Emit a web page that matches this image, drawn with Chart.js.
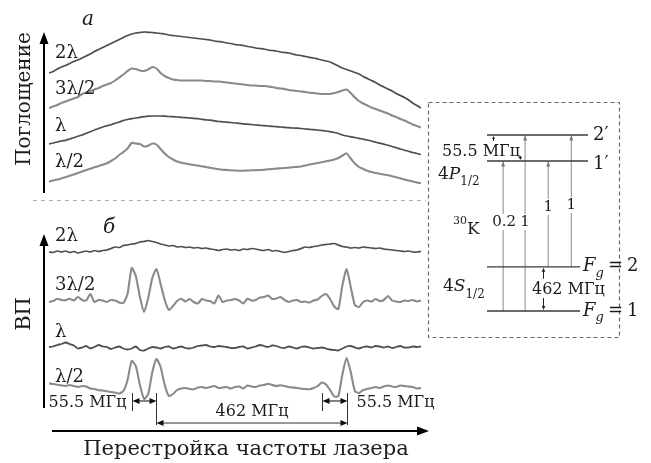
<!DOCTYPE html>
<html><head><meta charset="utf-8">
<script src="https://cdn.jsdelivr.net/npm/chart.js@4/dist/chart.umd.min.js"></script>
<style>
html,body{margin:0;padding:0;background:#fff;width:651px;height:463px;overflow:hidden}
#main{position:absolute;left:0;top:0;width:651px;height:463px}
#diag{position:absolute;left:420px;top:90px;width:231px;height:260px}
canvas{display:block}
</style></head><body>
<div id="main"><canvas id="c1" width="651" height="463"></canvas></div>
<div id="diag"><canvas id="c2" width="231" height="260"></canvas></div>
<script>
// ---------- DATA ----------
// laser detuning, MHz
const freqMHz = [-200,-190,-180,-170,-160,-150,-140,-130,-120,-110,
 -100,-90,-80,-70,-60,-50,-40,-30,-20,-10,
 0,10,20,30,40,50,60,70,80,90,
 100,110,120,130,140,150,160,170,180,190,
 200,210,220,230,240,250,260,270,280,290,
 300,310,320,330,340,350,360,370,380,390,
 400,410,420,430,440,450,460,470,480,490,
 500,510,520,530,540,550,560,570,580,590,
 600,610,620,630,640,650,660,670,680,690,
 700];

// panel "a": absorption (arb. units, traces displaced for display)
const absorb2L = [332,333.5,336,338,339.5,341.5,343.5,345,347,349,
 351,353.5,355.5,357.5,359.5,361.5,363.5,365.5,367.5,369.5,
 371,372,372.5,373,372.7,372.5,372,371.5,371,370,
 369.5,369,368.5,368,367.5,367,366.5,366,365.5,365,
 364,363.5,363,362,361.5,360.5,360,359.5,358.5,358,
 357,356.5,356,355,354.5,354,353,352.5,352,351,
 350,349.5,348.5,347.7,347,346,345,344,343,341,
 339,337,335.5,334,332.5,331,328.5,326.5,324.5,322.5,
 320,318,316,314,311.5,309.5,307.5,305,302,299.5,
 297];
const absorb3L2 = [297,298.5,300,302,303.5,305,306.5,308,311,312.5,
 314,315.5,317,319,320.5,322,324.5,327.5,330.5,334,
 336.5,336,334.5,334,335.5,338,336.5,332,329,327,
 325.5,325,324.5,324.5,324.5,324.5,324.5,324.5,324,324,
 323.5,323.5,323,322.5,322,321.5,321,320.5,320,319.5,
 319.5,319,319,318.5,318,317,316.5,316,315,314.5,
 314,313.5,313,312.3,312,311.5,311,311,311,312,
 313,314.5,315.5,312,307.5,304,301.5,299.5,297.5,296,
 294.5,293,291.5,289.5,288,286,284.5,282.5,280.5,279,
 277.5];
const absorbL = [261,262,263,264,264.7,266,267.3,268.7,270,271.7,
 273.3,275,276.5,278,279.2,280.3,281.7,283,284.5,285.5,
 286.3,287,287.7,288.3,288.8,289,289,289,288.8,288.5,
 288.3,288,287.7,287.3,287,286.7,286.3,285.7,285.2,284.8,
 284.2,283.5,283.2,282.8,282.5,282,281.7,281.2,280.8,280.5,
 280,279.7,279.3,279,278.7,278.3,278,277.6,277.3,277,
 276.8,276.5,276,275.7,275.3,275,274.5,274,273.3,272.5,
 271.5,270,269,268.2,267.5,266.7,265.8,265,264,262.8,
 261.8,260.8,259.8,258.5,257.3,256,254.8,253.7,252.5,251.5,
 250.5];
const absorbL2 = [223.3,224.5,225.5,226.5,227.8,229.2,230.5,232,233.5,235,
 236.3,237.7,239,240.3,241.7,244,246.5,250,253,256.5,
 262,261.5,261,258.5,259.3,261.5,260.5,256,251.5,248,
 245.5,243.5,242.3,241.5,240.7,240,239.5,238.7,238,237.2,
 236.5,235.8,235.3,235,234.7,234.5,234.3,234.3,234.5,234.7,
 234.8,235,235.3,235.7,236,236.4,236.7,237,237.4,237.8,
 238.1,238.5,239.5,240.5,241.3,242,242.7,243.7,244.5,245.5,
 247,249.5,251.5,246.5,241.5,238,236,234.2,233,232,
 231.2,230.5,229.8,228.8,227.7,226.7,225.5,224.5,223.5,222.5,
 221.7];

// panel "б": signal (arb. units, traces displaced for display)
const vp2L = [153,152.5,154,153,154,152.5,153.5,152,153,154,
 153,154.5,153.5,154.5,155,156.5,158,157.5,159.5,160,
 161,161.5,163,163.5,164.5,163.5,162.5,161,160,159,
 159.5,158,158.5,157.5,158,157,157.5,156.5,157,156,
 155.5,154.5,155.5,156,155,155.5,154.5,156,155.5,156.5,
 156,155,154.5,155.5,154,154.5,153.5,152.5,153.5,154.5,
 155,156.5,158,157.5,158.5,159,160,160.5,161,161.5,
 160,158.5,158,157,157.5,157,158,157.5,157,156.5,
 157,156,155.5,155,154.5,154,153.5,154,153,153,
 153.5];
const vp3L2 = [103,104,106.3,105,104.7,106.3,104.5,108,105,104.5,
 111,103,105,104.5,103,105,104.5,102.5,102,111,
 137,129,108,93,107,127,136,121,105,95,
 99,104,106.3,103.5,106,103,101.5,106,104.5,104,
 101.5,109.5,103,104.5,105,106,104.5,101.5,106.3,104.5,
 105,107.5,108,109.5,106,106.5,108,105,103,104.5,
 105,103,103.5,102.5,104.5,105.5,109,111,106,98.5,
 96,120,136,118,100,98,103,104.5,103.5,106,
 104,105,109,104.5,103.5,103,104.5,104,105,103.5,
 104.5];
const vpL = [58,58.5,60,61,62.5,61,59.5,56.5,57.5,59,
 56.5,58,60,58.5,58,56,57.5,58.5,56.5,55.5,
 56.5,58.5,55,54.5,56.5,58,57.5,56.5,58,58.5,
 56.5,57.5,58.5,57,56.5,57.5,59,59.5,60,58.5,
 58,59,58.5,58,57,57,58,58.5,56.5,57.5,
 58.5,60,59,58,59.5,59,57.5,57,58.5,57.5,
 56.5,58,58.5,57.5,56.5,57,57.5,56.5,55.5,55,
 54.5,56.5,58.5,59,57.5,56.5,58,58.5,57.5,59,
 58.5,57.5,58.5,57,58,59,57.5,57.5,58.5,58,
 58.5];
const vpL2 = [21.5,21,20.3,19.5,19,20,19,18,19,18.5,
 16.5,16,14.7,14.5,13.7,13,12.5,11.5,14,25,
 44,39,20,6,11,33,46,38,20,9,
 11,15,16.5,17,16,15.7,17.5,18,17,18,
 19,17,17.5,18,16.5,18,18.5,16.5,19.5,18.5,
 18,19.5,20,21.3,20,19,19.7,19,18,17.5,
 17,16.3,16,15.7,17,19,22.5,20.5,15,8.5,
 9,31,47,33,14,12,15,16,17,18,
 17,18.5,19.5,18.5,18,19.5,19,18.5,18,16.5,
 17];

const traceLabels = ["2λ", "3λ/2", "λ", "λ/2"];
const markerFreqs = [0, 60, 460, 522];           // MHz, resonance markers
const spacingLabels = ["55.5 МГц", "462 МГц", "55.5 МГц"];

// level scheme of 30K (schematic units)
const levelNames = ["Fg=1", "Fg=2", "1′", "2′"];
const levelPos = [15, 32, 72.7, 82.7];
const levelStart = [29, 29, 29, 29];
const levelEnd = [69.3, 69.3, 72.7, 72.7];
const transX = [36, 45.5, 55.5, 65.5];
const transFrom = [0, 0, 1, 1];
const transTo = [2, 3, 2, 3];
const transRel = ["0.2", "1", "1", "1"];

// ---------- HELPERS ----------
const FONT = "'DejaVu Serif', 'Liberation Serif', serif";
const DARK = '#4e4e4e', LIGHT = '#8a8a8a', INK = '#1c1c1c';

function head(ctx, x, y, ang, len, half) {
  const c = Math.cos(ang), s = Math.sin(ang);
  ctx.beginPath();
  ctx.moveTo(x, y);
  ctx.lineTo(x - len * c + half * s, y - len * s - half * c);
  ctx.lineTo(x - len * c - half * s, y - len * s + half * c);
  ctx.closePath(); ctx.fill();
}
function arrow(ctx, x1, y1, x2, y2, w, len, half, both) {
  const ang = Math.atan2(y2 - y1, x2 - x1);
  const c = Math.cos(ang), s = Math.sin(ang);
  ctx.lineWidth = w;
  ctx.beginPath();
  ctx.moveTo(both ? x1 + c * len * 0.6 : x1, both ? y1 + s * len * 0.6 : y1);
  ctx.lineTo(x2 - c * len * 0.6, y2 - s * len * 0.6);
  ctx.stroke();
  head(ctx, x2, y2, ang, len, half);
  if (both) head(ctx, x1, y1, ang + Math.PI, len, half);
}
function vline(ctx, x, y1, y2) { ctx.beginPath(); ctx.moveTo(x, y1); ctx.lineTo(x, y2); ctx.stroke(); }
function txt(ctx, s, x, y, font, align) {
  ctx.font = font; ctx.textAlign = align || 'left'; ctx.textBaseline = 'middle';
  ctx.fillText(s, x, y);
}
function runs(ctx, x, y, parts) {
  ctx.textAlign = 'left'; ctx.textBaseline = 'middle';
  for (const p of parts) {
    ctx.font = p.f;
    if (p.x !== undefined) x = p.x;
    ctx.fillText(p.t, x, y + (p.dy || 0));
    x += ctx.measureText(p.t).width;
  }
}

// ---------- MAIN CHART ----------
const mk = (arr, color, w, tension) => ({
  data: freqMHz.map((f, i) => ({ x: f, y: arr[i] })),
  borderColor: color, borderWidth: w, tension: tension,
  pointRadius: 0, fill: false
});

const mainAnnot = {
  id: 'mainAnnot',
  afterDraw(chart) {
    const ctx = chart.ctx, xs = chart.scales.x;
    ctx.save();
    // panel separator
    ctx.strokeStyle = '#b0b0b0'; ctx.lineWidth = 1; ctx.setLineDash([4, 4]);
    ctx.beginPath(); ctx.moveTo(33, 200.5); ctx.lineTo(426, 200.5); ctx.stroke();
    ctx.setLineDash([]);
    // axis arrows
    ctx.strokeStyle = '#000'; ctx.fillStyle = '#000';
    arrow(ctx, 44, 193, 44, 32, 2, 12, 4.5);
    arrow(ctx, 44, 408, 44, 234, 2, 12, 4.5);
    arrow(ctx, 52, 431, 429, 431, 2, 12, 4.5);
    // axis titles
    ctx.fillStyle = INK;
    ctx.save(); ctx.translate(25, 99); ctx.rotate(-Math.PI / 2);
    txt(ctx, "Поглощение", 0, 0, `20px ${FONT}`, 'center'); ctx.restore();
    ctx.save(); ctx.translate(25, 314); ctx.rotate(-Math.PI / 2);
    txt(ctx, "ВП", 0, 0, `21px ${FONT}`, 'center'); ctx.restore();
    txt(ctx, "Перестройка частоты лазера", 246, 450, `21px ${FONT}`, 'center');
    // panel letters
    txt(ctx, "a", 88, 20, `italic 20px ${FONT}`, 'center');
    txt(ctx, "б", 109, 228, `italic 20px ${FONT}`, 'center');
    // trace labels
    const yA = [53, 89, 126, 162], yB = [236, 285, 332, 377];
    traceLabels.forEach((s, k) => {
      txt(ctx, s, 55, yA[k], `18px ${FONT}`, 'left');
      txt(ctx, s, 55, yB[k], `18px ${FONT}`, 'left');
    });
    // resonance markers
    const mx = markerFreqs.map(f => Math.round(xs.getPixelForValue(f)) + 0.5);
    ctx.strokeStyle = '#333'; ctx.fillStyle = '#111'; ctx.lineWidth = 1;
    vline(ctx, mx[0], 393, 411); vline(ctx, mx[1], 393, 425);
    vline(ctx, mx[2], 393, 411); vline(ctx, mx[3], 393, 425);
    arrow(ctx, mx[0], 401, mx[1], 401, 1.2, 7, 3, true);
    arrow(ctx, mx[2], 401, mx[3], 401, 1.2, 7, 3, true);
    arrow(ctx, mx[1], 423, mx[3], 423, 1, 7, 3, true);
    ctx.fillStyle = INK;
    txt(ctx, spacingLabels[0], mx[0] - 6, 403, `16px ${FONT}`, 'right');
    txt(ctx, spacingLabels[1], (mx[1] + mx[3]) / 2, 412, `16px ${FONT}`, 'center');
    txt(ctx, spacingLabels[2], mx[3] + 9, 403, `16px ${FONT}`, 'left');
    ctx.restore();
  }
};

new Chart(document.getElementById('c1'), {
  type: 'line',
  data: {
    datasets: [
      mk(absorb2L, DARK, 1.7, 0.3), mk(absorb3L2, LIGHT, 2.1, 0.3),
      mk(absorbL, DARK, 1.7, 0.3), mk(absorbL2, LIGHT, 2.1, 0.3),
      mk(vp2L, DARK, 1.7, 0.2), mk(vp3L2, LIGHT, 2.1, 0.2),
      mk(vpL, DARK, 1.8, 0.2), mk(vpL2, LIGHT, 2.1, 0.2)
    ]
  },
  options: {
    responsive: false, animation: false, devicePixelRatio: 1,
    layout: { padding: { left: 49, right: 230, top: 25, bottom: 58 } },
    scales: {
      x: { type: 'linear', min: -200, max: 700, display: false },
      y: { min: 0, max: 380, display: false }
    },
    plugins: { legend: { display: false }, tooltip: { enabled: false } },
    elements: { point: { radius: 0 } }
  },
  plugins: [mainAnnot]
});

// ---------- LEVEL DIAGRAM ----------
const diagAnnot = {
  id: 'diagAnnot',
  afterDraw(chart) {
    const ctx = chart.ctx, xs = chart.scales.x, ys = chart.scales.y;
    const ly = levelPos.map(v => ys.getPixelForValue(v));
    ctx.save();
    // dashed frame
    ctx.strokeStyle = '#6a6a6a'; ctx.lineWidth = 1.2; ctx.setLineDash([4, 3]);
    ctx.strokeRect(8.5, 12.5, 191, 235);
    ctx.setLineDash([]);
    // arrowheads of transitions
    ctx.fillStyle = '#777';
    transX.forEach((x, k) => head(ctx, xs.getPixelForValue(x), ly[transTo[k]] + 0.5, -Math.PI / 2, 5, 2));
    // relative strengths (white box = gap in line)
    const relY = [132, 132, 117, 115];
    ctx.font = `15px ${FONT}`;
    transX.forEach((x, k) => {
      const px = xs.getPixelForValue(x), w = ctx.measureText(transRel[k]).width;
      ctx.fillStyle = '#fff'; ctx.fillRect(px - w / 2 - 1, relY[k] - 8, w + 2, 16);
      ctx.fillStyle = INK; txt(ctx, transRel[k], px + (k === 0 ? 1 : 0), relY[k], `15px ${FONT}`, 'center');
    });
    // 462 MHz ground splitting indicator
    ctx.strokeStyle = '#222'; ctx.fillStyle = '#222';
    const gx = 123.5;
    arrow(ctx, gx, ly[1] + 12, gx, ly[1] + 1, 1, 4, 1.8);
    arrow(ctx, gx, ly[0] - 13, gx, ly[0] - 1, 1, 4, 1.8);
    // 55.5 MHz excited splitting ticks
    arrow(ctx, 73.5, ly[3] + 6, 73.5, ly[3] + 1, 1, 3, 1.5);
    arrow(ctx, 100.5, ly[2] - 5, 100.5, ly[2] - 1, 1, 3, 1.5);
    // texts
    ctx.fillStyle = INK;
    txt(ctx, "2′", 173, ly[3], `18px ${FONT}`, 'left');
    txt(ctx, "1′", 173, ly[2] + 3, `18px ${FONT}`, 'left');
    txt(ctx, "55.5 МГц", 22, 62, `16px ${FONT}`, 'left');
    runs(ctx, 18, 85, [{ t: '4', f: `17px ${FONT}` }, { t: 'P', f: `italic 17px ${FONT}` }, { t: '1/2', f: `12px ${FONT}`, dy: 7 }]);
    runs(ctx, 23, 197, [{ t: '4', f: `17px ${FONT}` }, { t: 'S', f: `italic 17px ${FONT}` }, { t: '1/2', f: `12px ${FONT}`, dy: 8 }]);
    runs(ctx, 33, 140, [{ t: '30', f: `11px ${FONT}`, dy: -9 }, { t: 'K', f: `17px ${FONT}` }]);
    txt(ctx, "462 МГц", 112, 200, `16px ${FONT}`, 'left');
    [1, 0].forEach(k => {
      const y = ly[k];
      runs(ctx, 163, y, [{ t: 'F', f: `italic 18px ${FONT}` }, { t: 'g', f: `italic 13px ${FONT}`, dy: 7 },
        { t: '=', f: `18px ${FONT}`, x: 188 }, { t: String(k + 1), f: `18px ${FONT}`, x: 207 }]);
    });
    ctx.restore();
  }
};

const diagSets = [];
levelPos.forEach((y, k) => diagSets.push({
  data: [{ x: levelStart[k], y: y }, { x: levelEnd[k], y: y }],
  borderColor: '#3a3a3a', borderWidth: 1.3, pointRadius: 0, fill: false
}));
transX.forEach((x, k) => diagSets.push({
  data: [{ x: x, y: levelPos[transFrom[k]] }, { x: x, y: levelPos[transTo[k]] }],
  borderColor: '#8a8a8a', borderWidth: 1, pointRadius: 0, fill: false
}));

new Chart(document.getElementById('c2'), {
  type: 'line',
  data: { datasets: diagSets },
  options: {
    responsive: false, animation: false, devicePixelRatio: 1,
    layout: { padding: 0 },
    scales: {
      x: { type: 'linear', min: 0, max: 100, display: false },
      y: { min: 0, max: 100, display: false }
    },
    plugins: { legend: { display: false }, tooltip: { enabled: false } },
    elements: { point: { radius: 0 } }
  },
  plugins: [diagAnnot]
});
</script>
</body></html>
